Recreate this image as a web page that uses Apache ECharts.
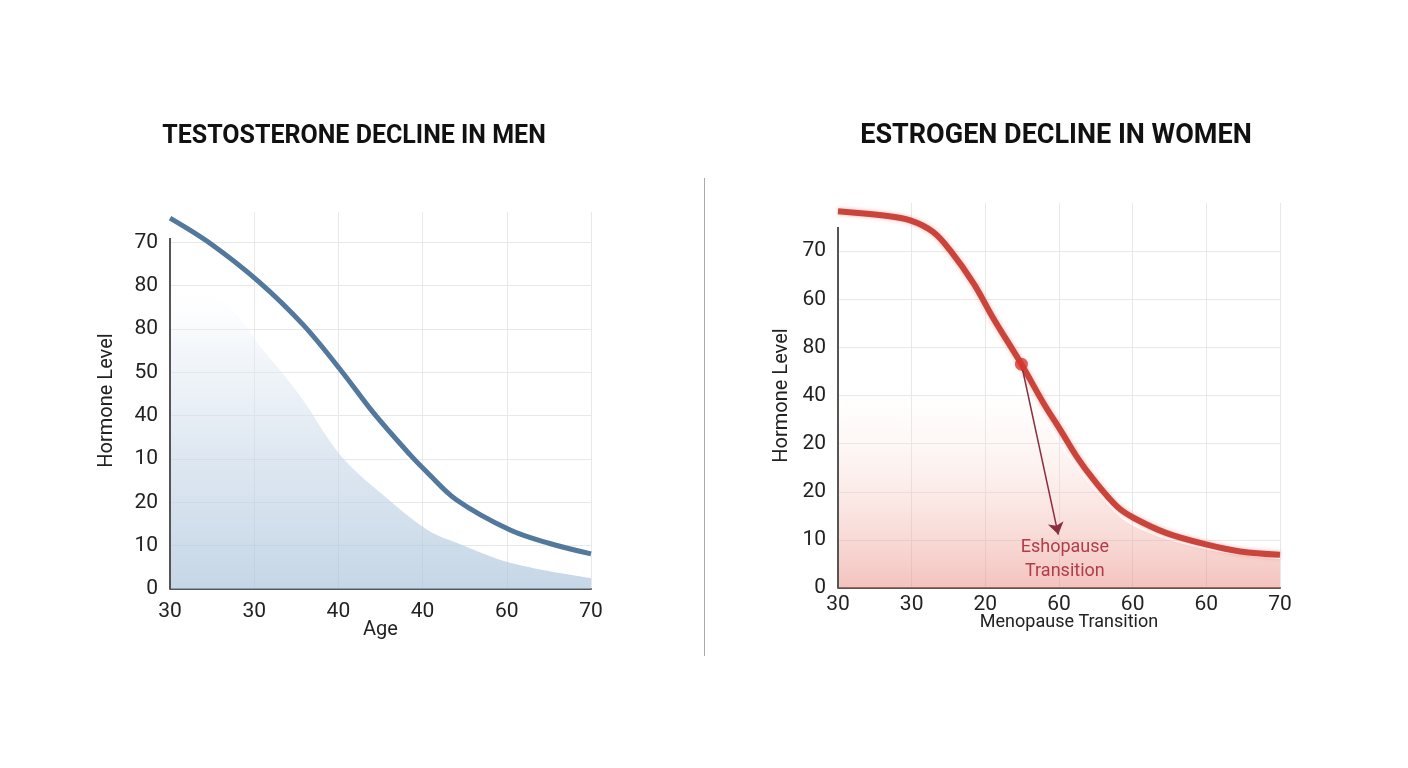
<!DOCTYPE html>
<html><head><meta charset="utf-8">
<script src="https://cdn.jsdelivr.net/npm/echarts@6/dist/echarts.min.js"></script>
<style>html,body{margin:0;padding:0;background:#fff}#c{width:1408px;height:768px}</style>
</head><body><div id="c"></div>
<script>
// ---- data ----
const titles = ['TESTOSTERONE DECLINE IN MEN', 'ESTROGEN DECLINE IN WOMEN'];
const menXLabels = ['30', '30', '40', '40', '60', '70'];
const menYLabels = ['0', '10', '20', '10', '40', '50', '80', '80', '70'];
const womenXLabels = ['30', '30', '20', '60', '60', '60', '70'];
const womenYLabels = ['0', '10', '20', '20', '40', '80', '60', '70'];
const menXName = 'Age';
const womenXName = 'Menopause Transition';
const yName = 'Hormone Level';

// [x position, level] (one gridline step = 10)
const testosteroneLine = [[0, 85.6], [4.75, 79.8], [10.5, 71.0], [15.8, 61.0], [20.4, 50.2], [24.1, 40.8], [28.5, 31.0], [30.5, 27.0], [34.0, 20.6], [40.4, 13.6], [45.1, 10.5], [50, 8.1]];
const testosteroneShade = [[0, 69], [5, 67.5], [8.5, 62], [10.5, 56.5], [13.5, 49.5], [15.8, 43.6], [20.2, 31], [25, 22.2], [30.6, 13.6], [34.1, 10.6], [40.5, 6.0], [50, 2.5]];
const estrogenLine = [[0, 78.3], [6.2, 77.4], [9.8, 76.4], [12.9, 74.0], [15.2, 70.2], [18.4, 63.3], [21.1, 56.0], [24.9, 46.5], [27.9, 38.4], [30.2, 32.8], [32.4, 27.3], [34.7, 22.5], [37.9, 16.9], [40.1, 14.6], [44.6, 11.4], [50.1, 9.0], [54.6, 7.6], [60, 6.9]];
const estrogenShade = [[0, 42], [15, 42], [25, 40], [30, 30], [35, 20], [40, 13], [50, 8], [60, 6]];
const estrogenMarker = [[24.9, 46.5]];
const arrowEnd = [29.9, 11.1];
const annotationPos = [30.8, 5.9];
const annotationText = 'Eshopause\nTransition';
const menAxisTop = 81;
const womenAxisTop = 75;

// ---- chart ----
const FONT = 'Roboto';
function fmt(labels) {
  return function (v) {
    const i = v / 10;
    return (Number.isInteger(i) && labels[i] != null) ? labels[i] : '';
  };
}
const chart = echarts.init(document.getElementById('c'));
const axisLineStyle = { color: '#555', width: 2 };
const gridColor = '#e8e8e8';

chart.setOption({
  animation: false,
  backgroundColor: '#fff',
  title: [
    { text: titles[0], left: 349, top: 119, textAlign: 'center',
      textStyle: { fontFamily: FONT, fontSize: 25, fontWeight: 'bold', color: '#111' } },
    { text: titles[1], left: 1051, top: 118, textAlign: 'center',
      textStyle: { fontFamily: FONT, fontSize: 27, fontWeight: 'bold', color: '#111' } }
  ],
  graphic: [
    { type: 'line', shape: { x1: 704.5, y1: 178, x2: 704.5, y2: 656 }, style: { stroke: '#aaa', lineWidth: 1 } }
  ],
  grid: [
    { left: 170, top: 212, width: 421, height: 377 },
    { left: 838, top: 203, width: 442, height: 385 }
  ],
  xAxis: [
    { type: 'value', gridIndex: 0, min: 0, max: 50, interval: 10,
      axisLine: { show: true, onZero: false, lineStyle: axisLineStyle },
      axisTick: { show: false },
      axisLabel: { formatter: fmt(menXLabels), fontFamily: FONT, fontSize: 21, color: '#222', margin: 12 },
      splitLine: { show: true, showMinLine: false, lineStyle: { color: gridColor } },
      name: menXName, nameLocation: 'middle', nameGap: 31, nameMoveOverlap: false,
      nameTextStyle: { fontFamily: FONT, fontSize: 20, color: '#222' } },
    { type: 'value', gridIndex: 1, min: 0, max: 60, interval: 10,
      axisLine: { show: true, onZero: false, lineStyle: axisLineStyle },
      axisTick: { show: false },
      axisLabel: { formatter: fmt(womenXLabels), fontFamily: FONT, fontSize: 21, color: '#222', margin: 6 },
      splitLine: { show: true, showMinLine: false, lineStyle: { color: gridColor } },
      name: womenXName, nameLocation: 'middle', nameGap: 25, nameMoveOverlap: false,
      nameTextStyle: { fontFamily: FONT, fontSize: 18, color: '#222', padding: [0, 0, 0, 20] } }
  ],
  yAxis: [
    { type: 'value', gridIndex: 0, min: 0, max: 87, interval: 10,
      axisLine: { show: false }, axisTick: { show: false },
      axisLabel: { formatter: fmt(menYLabels), fontFamily: FONT, fontSize: 21, color: '#222', margin: 12 },
      splitLine: { show: true, showMinLine: false, showMaxLine: false, lineStyle: { color: gridColor } },
      name: yName, nameLocation: 'middle', nameGap: 53,
      nameTextStyle: { fontFamily: FONT, fontSize: 20, color: '#222' } },
    { type: 'value', gridIndex: 1, min: 0, max: 80, interval: 10,
      axisLine: { show: false }, axisTick: { show: false },
      axisLabel: { formatter: fmt(womenYLabels), fontFamily: FONT, fontSize: 21, color: '#222', margin: 12 },
      splitLine: { show: true, showMinLine: false, showMaxLine: false, lineStyle: { color: gridColor } },
      name: yName, nameLocation: 'middle', nameGap: 46,
      nameTextStyle: { fontFamily: FONT, fontSize: 20, color: '#222' } }
  ],
  series: [
    { type: 'line', xAxisIndex: 0, yAxisIndex: 0, data: testosteroneShade, smooth: 0.35,
      showSymbol: false, lineStyle: { width: 0 }, silent: true,
      areaStyle: { color: new echarts.graphic.LinearGradient(0, 0, 0, 1, [
        { offset: 0, color: 'rgba(240,245,250,0)' },
        { offset: 0.2, color: 'rgba(226,235,244,0.6)' },
        { offset: 0.5, color: 'rgba(205,219,234,0.85)' },
        { offset: 1, color: 'rgba(168,194,218,0.95)' }
      ]) } },
    { type: 'line', xAxisIndex: 0, yAxisIndex: 0, data: testosteroneLine, smooth: 0.35,
      showSymbol: false, lineStyle: { color: '#52799d', width: 5 }, silent: true,
      markLine: { silent: true, symbol: 'none', label: { show: false },
        lineStyle: { color: '#555', width: 2, type: 'solid' },
        data: [[{ coord: [0, 0] }, { coord: [0, menAxisTop] }]] } },
    { type: 'line', xAxisIndex: 1, yAxisIndex: 1, data: estrogenShade, smooth: 0.35,
      showSymbol: false, lineStyle: { width: 0 }, silent: true,
      areaStyle: { color: new echarts.graphic.LinearGradient(0, 0, 0, 1, [
        { offset: 0, color: 'rgba(252,232,225,0)' },
        { offset: 0.4, color: 'rgba(246,208,200,0.4)' },
        { offset: 1, color: 'rgba(232,128,118,0.68)' }
      ]) } },
    { type: 'line', xAxisIndex: 1, yAxisIndex: 1, data: estrogenLine, smooth: 0.35,
      showSymbol: false, silent: true,
      lineStyle: { color: '#c9453c', width: 6, shadowBlur: 4, shadowColor: 'rgba(230,90,80,0.45)' },
      markLine: { silent: true, symbol: 'none', label: { show: false },
        lineStyle: { color: '#555', width: 2, type: 'solid' },
        data: [[{ coord: [0, 0] }, { coord: [0, womenAxisTop] }]] } },
    { type: 'scatter', xAxisIndex: 1, yAxisIndex: 1, data: estrogenMarker, symbolSize: 13,
      itemStyle: { color: '#d7372f' }, silent: true, z: 5,
      markLine: { silent: true, symbol: ['none', 'arrow'], symbolSize: 12, label: { show: false },
        lineStyle: { color: '#8a2e3e', width: 1.5, type: 'solid' },
        emphasis: { disabled: true },
        data: [[{ coord: estrogenMarker[0] }, { coord: arrowEnd, symbol: 'arrow', symbolSize: 12 }]] },
      markPoint: { silent: true, symbol: 'circle', symbolSize: 1, itemStyle: { color: 'rgba(0,0,0,0)' },
        label: { show: true, position: 'inside', formatter: annotationText, color: '#b23c48',
          fontFamily: FONT, fontSize: 18, lineHeight: 24, align: 'center' },
        data: [{ coord: annotationPos }] } }
  ]
});
</script>
</body></html>
